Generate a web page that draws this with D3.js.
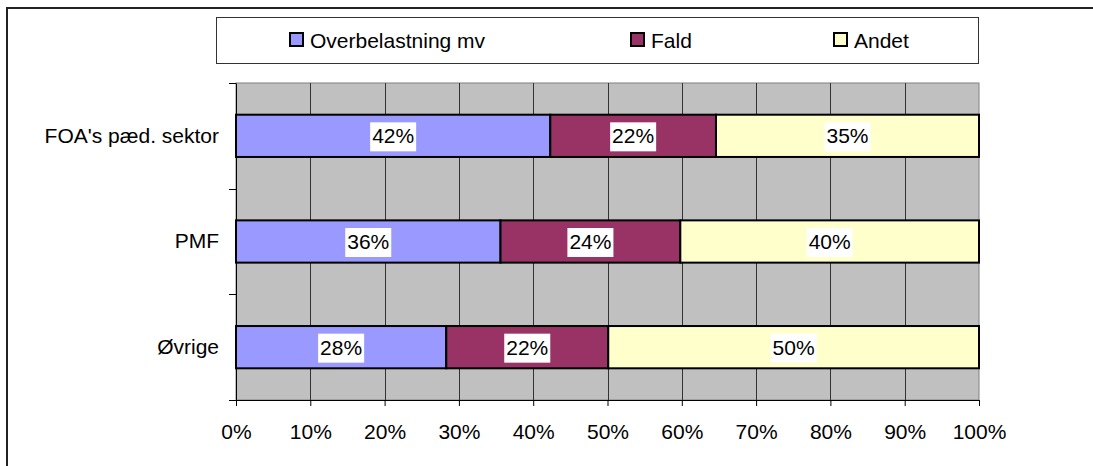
<!DOCTYPE html>
<html>
<head>
<meta charset="utf-8">
<script src="https://cdn.jsdelivr.net/npm/d3@7"></script>
<style>
  body { margin: 0; background: #fff; }
  text { font-family: "Liberation Sans", Arial, sans-serif; }
</style>
</head>
<body>
<script>
// chart data
var categories = ["FOA's pæd. sektor", "PMF", "Øvrige"];
var seriesNames = ["Overbelastning mv", "Fald", "Andet"];
var overbelastning = [42.3, 35.6, 28.3];
var fald = [22.3, 24.2, 21.8];
var andet = [35.4, 40.2, 49.9];
var tickValues = [0, 10, 20, 30, 40, 50, 60, 70, 80, 90, 100];
var colors = ["#9999FF", "#993366", "#FFFFCC"];

var width = 1093;
var height = 466;
var svg = d3.select('body').append('svg')
  .attr('width', width)
  .attr('height', height);

// outer border (runs off right/bottom edge)
svg.append('rect')
  .attr('x', 7).attr('y', 8)
  .attr('width', 1100).attr('height', 500)
  .style('fill', 'none').style('stroke', '#222').style('stroke-width', 2);

var plot = {left: 236, right: 979, top: 83, bottom: 400};

var x = d3.scaleLinear().domain([0, 100]).range([plot.left, plot.right]);
var y = d3.scaleBand().domain(categories).range([plot.top, plot.bottom]);

// build stacked rows from the arrays
var rows = categories.map(function(c, i) {
  var obj = {cat: c};
  obj[seriesNames[0]] = overbelastning[i];
  obj[seriesNames[1]] = fald[i];
  obj[seriesNames[2]] = andet[i];
  return obj;
});
var stacked = d3.stack().keys(seriesNames)(rows);

// plot background
svg.append('rect')
  .attr('x', plot.left).attr('y', plot.top)
  .attr('width', plot.right - plot.left).attr('height', plot.bottom - plot.top)
  .style('fill', '#C0C0C0').style('stroke', '#808080').style('stroke-width', 1);

// vertical gridlines
svg.selectAll('line.grid').data(tickValues.slice(1, -1))
  .enter().append('line')
  .attr('class', 'grid')
  .attr('x1', function(d){ return Math.round(x(d)) + 0.5; })
  .attr('x2', function(d){ return Math.round(x(d)) + 0.5; })
  .attr('y1', plot.top).attr('y2', plot.bottom)
  .style('stroke', '#333').style('stroke-width', 1);

// bars
var barH = y.bandwidth() * 0.4;
var groups = svg.selectAll('g.series').data(stacked)
  .enter().append('g')
  .attr('class', 'series')
  .style('fill', function(d, i){ return colors[i]; });

groups.selectAll('rect').data(function(d){ return d; })
  .enter().append('rect')
  .attr('x', function(d){ return x(d[0]); })
  .attr('width', function(d){ return x(d[1]) - x(d[0]); })
  .attr('y', function(d){ return y(d.data.cat) + (y.bandwidth() - barH) / 2; })
  .attr('height', barH)
  .style('stroke', '#000').style('stroke-width', 2);

// data labels with white box
var labels = [];
stacked.forEach(function(s) {
  s.forEach(function(d) {
    labels.push({cx: (x(d[0]) + x(d[1])) / 2, cy: y(d.data.cat) + y.bandwidth() / 2,
      txt: Math.round(d[1] - d[0]) + '%'});
  });
});
var lg = svg.selectAll('g.lbl').data(labels).enter().append('g').attr('class', 'lbl');
lg.append('text')
  .attr('x', function(d){ return d.cx; })
  .attr('y', function(d){ return d.cy + 7.5; })
  .attr('text-anchor', 'middle')
  .style('font-size', '21px')
  .text(function(d){ return d.txt; })
  .each(function() {
    var bb = this.getBBox();
    d3.select(this.parentNode).insert('rect', 'text')
      .attr('x', bb.x - 2).attr('y', this.getAttribute('y') - 21)
      .attr('width', bb.width + 4).attr('height', 29)
      .style('fill', '#fff');
  });

// axes
var xAxis = svg.append('g')
  .attr('transform', 'translate(0,' + plot.bottom + ')')
  .call(d3.axisBottom(x).tickValues(tickValues).tickSize(6).tickPadding(18)
    .tickFormat(function(d){ return d + '%'; }));
xAxis.selectAll('text').style('font-size', '21px').style('fill', '#000')
  .style('font-family', '"Liberation Sans", Arial, sans-serif');
xAxis.selectAll('line, path').style('stroke', '#000');

var yAxis = svg.append('g')
  .attr('transform', 'translate(' + plot.left + ',0)')
  .call(d3.axisLeft(y).tickSize(0).tickPadding(17));
yAxis.selectAll('text').style('font-size', '21px').style('fill', '#000')
  .style('font-family', '"Liberation Sans", Arial, sans-serif');
yAxis.select('path').style('stroke', '#000');

// category separator ticks
var sepVals = [plot.top, plot.top + y.step(), plot.top + 2 * y.step(), plot.bottom];
svg.selectAll('line.sep').data(sepVals).enter().append('line')
  .attr('x1', plot.left - 7).attr('x2', plot.left)
  .attr('y1', function(d){ return Math.round(d) + 0.5; })
  .attr('y2', function(d){ return Math.round(d) + 0.5; })
  .style('stroke', '#000');

// legend
var legend = svg.append('g');
legend.append('rect')
  .attr('x', 216.5).attr('y', 17.5).attr('width', 762).attr('height', 46)
  .style('fill', '#fff').style('stroke', '#333');
var legendX = [290, 631, 834];
var items = legend.selectAll('g.item').data(seriesNames).enter().append('g')
  .attr('transform', function(d, i){ return 'translate(' + legendX[i] + ',33)'; });
items.append('rect')
  .attr('width', 13).attr('height', 13)
  .style('fill', function(d, i){ return colors[i]; })
  .style('stroke', '#000').style('stroke-width', 2);
items.append('text')
  .attr('x', 20).attr('y', 15)
  .style('font-size', '21px')
  .text(function(d){ return d; });
</script>
</body>
</html>
